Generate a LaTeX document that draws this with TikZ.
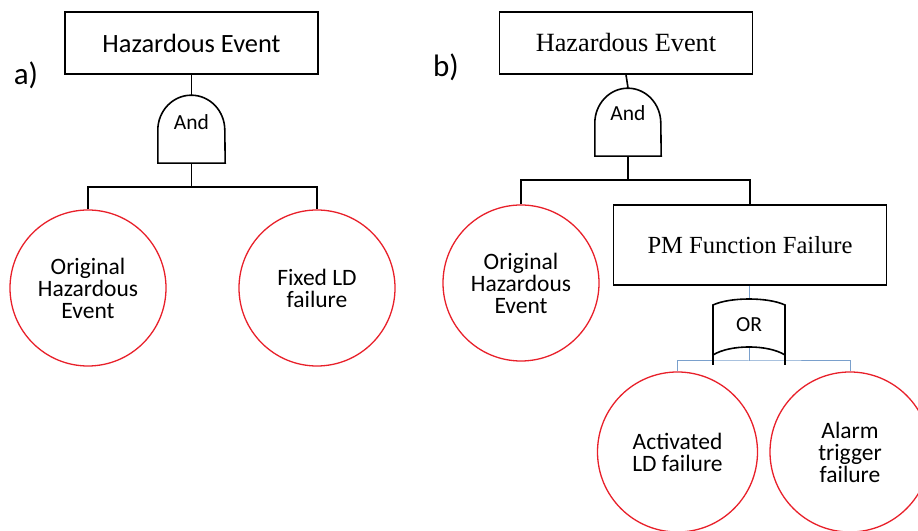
\documentclass[tikz,border=0pt]{standalone}
\usepackage{fontspec}
\setmainfont{Carlito}
\newfontfamily\timesrm{Liberation Serif}
\definecolor{evred}{RGB}{232,32,42}
\definecolor{linkblue}{RGB}{122,160,204}
\tikzset{
  event/.style={draw, line width=1.6pt, minimum width=253pt, minimum height=62pt, inner sep=0pt},
  basic/.style={circle, draw=evred, line width=1.3pt, minimum size=156pt, inner sep=0pt,
    align=center, font=\fontsize{23.5}{22}\selectfont},
  gate/.style={inner sep=0pt, minimum width=67pt, minimum height=68pt},
  gatetext/.style={font=\fontsize{21.5}{24}\selectfont},
  link/.style={line width=1.6pt},
  thinlink/.style={line width=1pt, draw=linkblue},
  part/.style={font=\fontsize{31}{34}\selectfont}
}
\begin{document}
\begin{tikzpicture}[x=1pt, y=1pt]
  \useasboundingbox (0,0) rectangle (918,530);

  % a)
  \node[part] (pa) at (26,455) {a)};
  \node[event, font=\fontsize{26.4}{28}\selectfont] (topA) at (191.5,487) {Hazardous Event};
  \node[gate, label={[gatetext, yshift=7pt]center:And}] (andA) at (191.5,401) {};
  \draw[link] (andA.south west) -- ++(0,33)
    arc[start angle=180, end angle=0, x radius=33.5pt, y radius=35pt] -- (andA.south east) -- cycle;
  \node[basic] (origA) at (88,242) {Original\\Hazardous\\Event};
  \node[basic] (fixed) at (317,242) {Fixed LD\\failure};
  \coordinate (busA) at (191.5,343);
  \draw[link] (topA.south) -- (andA.north);
  \draw[link] (andA.south) -- (busA);
  \draw[link] (origA.north) |- (busA) -| (fixed.north);

  % b)
  \node[part] (pb) at (446,463) {b)};
  \node[event, font=\timesrm\fontsize{26.3}{28}\selectfont] (topB) at (626,487) {Hazardous Event};
  \node[gate, minimum width=66pt, label={[gatetext, yshift=9pt]center:And}] (andB) at (628,408) {};
  \draw[link] (andB.south west) -- ++(0,33)
    arc[start angle=180, end angle=0, x radius=33pt, y radius=35pt] -- (andB.south east) -- cycle;
  \node[basic] (origB) at (521,247) {Original\\Hazardous\\Event};
  \node[event, minimum width=273pt, minimum height=80pt, font=\timesrm\fontsize{24.6}{26}\selectfont]
    (pm) at (750,285) {PM Function Failure};
  \coordinate (busB) at (628,350);
  \draw[link] (topB.south) -- (andB.north);
  \draw[link] (andB.south) -- (busB);
  \draw[link] (origB.north) |- (busB) -| (pm.north);

  \node[gate, minimum width=72pt, minimum height=66pt, label={[gatetext, yshift=7pt]center:OR}] (orB) at (749,198) {};
  \node[basic, minimum size=160pt] (act) at (677.5,78) {Activated\\LD failure};
  \node[basic, minimum size=160pt] (alarm) at (850,78) {Alarm\\trigger\\failure};
  \coordinate (orOut) at (749,183);
  \coordinate (busC) at (749,169);
  \draw[thinlink] (pm.south -| orB.north) -- (orB.north);
  \draw[thinlink] (orOut) -- (busC);
  \draw[thinlink] (act.north) |- (busC) -| (alarm.north);
  \draw[link] (713,165) -- (713,225) .. controls (730,233) and (768,233) .. (785,225) -- (785,165);
  \draw[link] (713,175) .. controls (730,185.7) and (768,185.7) .. (785,175);
\end{tikzpicture}
\end{document}
